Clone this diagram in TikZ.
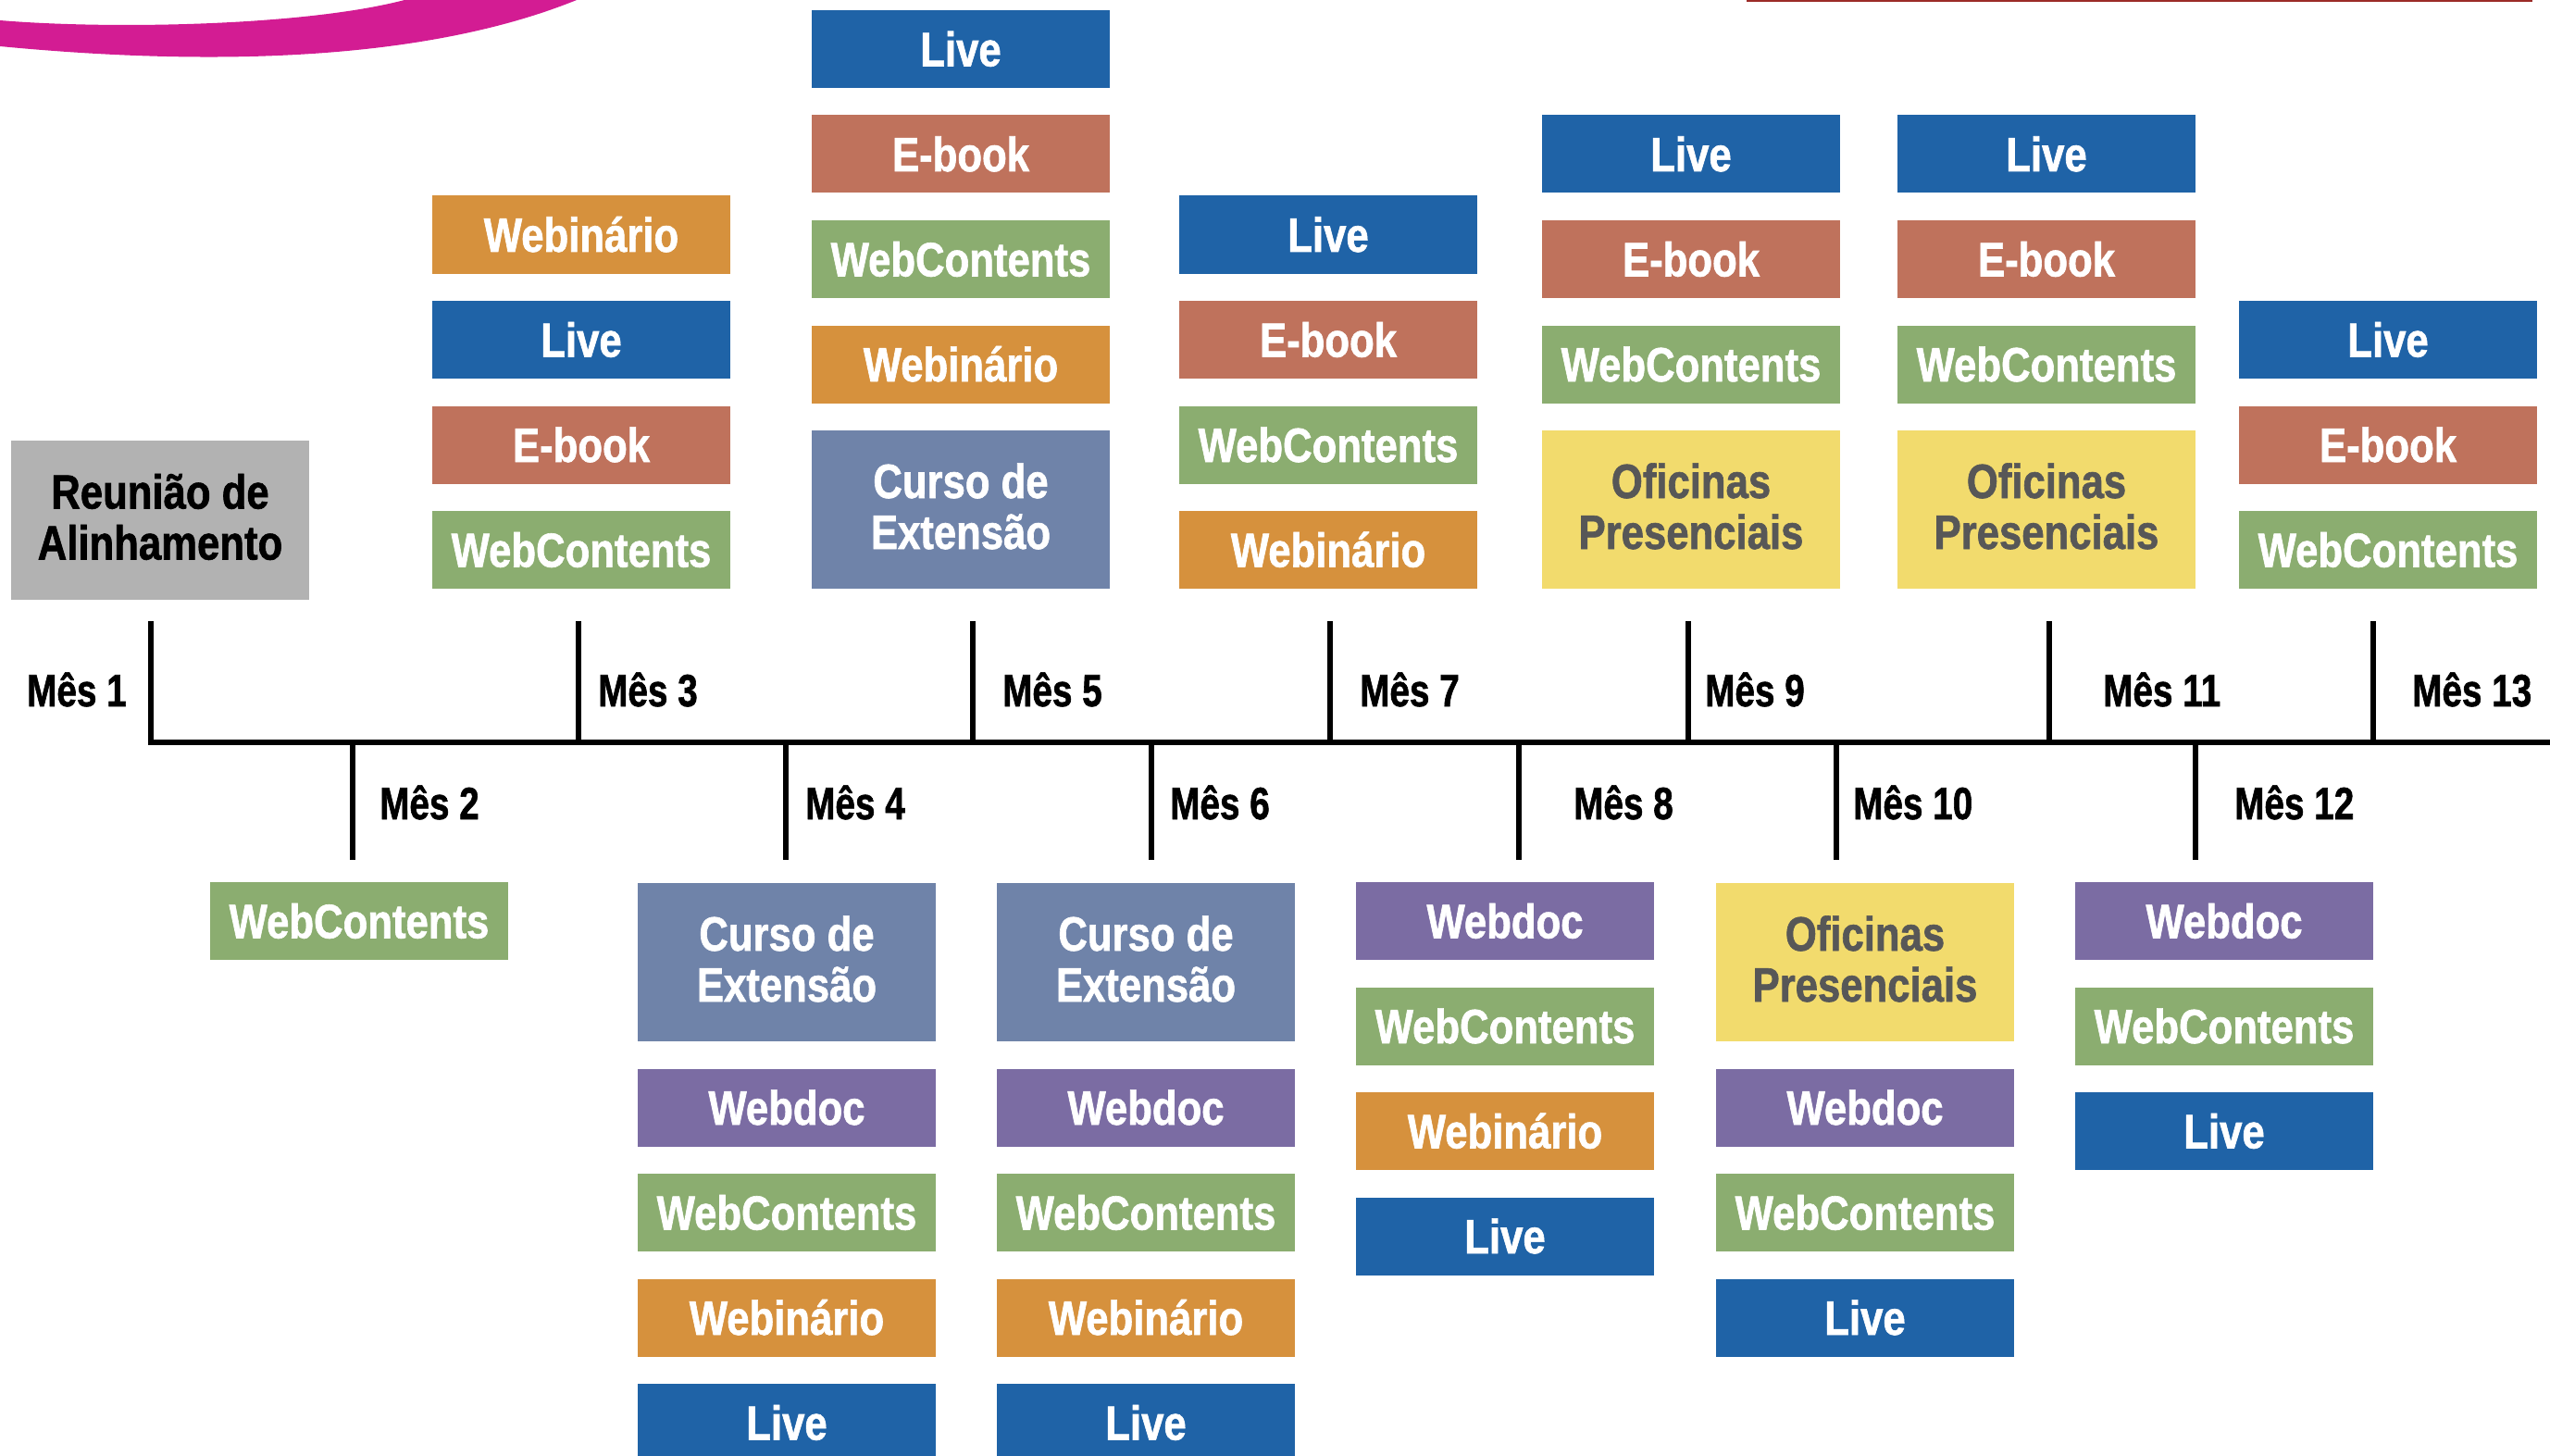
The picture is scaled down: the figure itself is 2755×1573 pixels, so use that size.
\documentclass[tikz,border=0pt]{standalone}
\usepackage{fontspec}
\newfontfamily\boxfont{Liberation Sans}[FakeStretch=0.84,FakeBold=1.2]
\newfontfamily\labfont{Liberation Sans}[FakeStretch=0.79,FakeBold=1.2]
\definecolor{cLive}{HTML}{1F63A7}
\definecolor{cEbook}{HTML}{BF725C}
\definecolor{cWebc}{HTML}{8BAD70}
\definecolor{cWebin}{HTML}{D6913D}
\definecolor{cCurso}{HTML}{6F83A9}
\definecolor{cWebdoc}{HTML}{7B6CA3}
\definecolor{cOfic}{HTML}{F2DB6D}
\definecolor{cOficTxt}{HTML}{575757}
\definecolor{cGray}{HTML}{B2B2B2}
\definecolor{cMag}{HTML}{D31C93}
\definecolor{cRed}{HTML}{9B2B27}
\newcommand\twol[2]{\begin{tabular}[t]{@{}c@{}}#1\\#2\end{tabular}}
\tikzset{
 bx/.style={rectangle, inner sep=0pt, outer sep=0pt, minimum width=322pt, minimum height=84pt,
   anchor=north west, font=\boxfont\bfseries\fontsize{52}{55}\selectfont,
   text height=37pt, text depth=0pt, text=white},
 dbl/.style={minimum height=171pt, text depth=62pt},
 live/.style={bx, fill=cLive},
 ebook/.style={bx, fill=cEbook},
 webc/.style={bx, fill=cWebc},
 webin/.style={bx, fill=cWebin},
 curso/.style={bx, dbl, fill=cCurso},
 webdoc/.style={bx, fill=cWebdoc},
 ofic/.style={bx, dbl, fill=cOfic, text=cOficTxt},
 reun/.style={bx, dbl, fill=cGray, text=black, minimum height=172pt},
 mes/.style={anchor=base west, inner sep=0pt, text=black, font=\labfont\bfseries\fontsize{49}{55}\selectfont},
 tl/.style={line width=6pt, draw=black, line join=miter},
}
\begin{document}
\begin{tikzpicture}[x=1pt,y=-1pt]
\useasboundingbox (0,0) rectangle (2755,1573);
\fill[white] (0,0) rectangle (2755,1573);
% decorative swoosh and top line
\fill[cMag] (0,22) .. controls (120,32) and (330,28) .. (437,0) -- (623,0) .. controls (470,62) and (250,74) .. (0,50) -- cycle;
\fill[cRed] (1887,0) rectangle (2736,2);

% timeline
\coordinate (hE) at (2755,802);
\foreach \n/\x in {1/162.5,3/625,5/1051,7/1437,9/1824,11/2214,13/2564}{
  \coordinate (t\n) at (\x,802);
  \coordinate (e\n) at (\x,671);
}
\foreach \n/\x in {2/380.6,4/848.5,6/1244,8/1641,10/1984,12/2372}{
  \coordinate (t\n) at (\x,802);
  \coordinate (e\n) at (\x,929);
}
\draw[tl] (e1) -- (t1) -- (hE);
\foreach \n in {3,5,7,9,11,13,2,4,6,8,10,12}{
  \draw[tl] (e\n) -- (t\n);
}

% month labels
\node[mes] (m1) at (29,763) {Mês 1};
\node[mes] (m3) at (646,763) {Mês 3};
\node[mes] (m5) at (1083,763) {Mês 5};
\node[mes] (m7) at (1469,763) {Mês 7};
\node[mes] (m9) at (1842,763) {Mês 9};
\node[mes] (m11) at (2272,763) {Mês 11};
\node[mes] (m13) at (2606,763) {Mês 13};
\node[mes] (m2) at (410,885) {Mês 2};
\node[mes] (m4) at (870,885) {Mês 4};
\node[mes] (m6) at (1264,885) {Mês 6};
\node[mes] (m8) at (1700,885) {Mês 8};
\node[mes] (m10) at (2002,885) {Mês 10};
\node[mes] (m12) at (2414,885) {Mês 12};

% Reunião
\node[reun] (r) at (12,476) {\twol{Reunião de}{Alinhamento}};

% upper column A
\node[webin] (a1) at (467,211.5) {Webinário};
\node[live]  (a2) at (467,325) {Live};
\node[ebook] (a3) at (467,438.5) {E-book};
\node[webc]  (a4) at (467,552) {WebContents};
% upper column B
\node[live]  (b1) at (877,11) {Live};
\node[ebook] (b2) at (877,124.5) {E-book};
\node[webc]  (b3) at (877,238) {WebContents};
\node[webin] (b4) at (877,351.5) {Webinário};
\node[curso] (b5) at (877,465) {\twol{Curso de}{Extensão}};
% upper column C
\node[live]  (c1) at (1274,211.5) {Live};
\node[ebook] (c2) at (1274,325) {E-book};
\node[webc]  (c3) at (1274,438.5) {WebContents};
\node[webin] (c4) at (1274,552) {Webinário};
% upper column D
\node[live]  (d1) at (1666,124.5) {Live};
\node[ebook] (d2) at (1666,238) {E-book};
\node[webc]  (d3) at (1666,351.5) {WebContents};
\node[ofic]  (d4) at (1666,465) {\twol{Oficinas}{Presenciais}};
% upper column E
\node[live]  (e1n) at (2050,124.5) {Live};
\node[ebook] (e2n) at (2050,238) {E-book};
\node[webc]  (e3n) at (2050,351.5) {WebContents};
\node[ofic]  (e4n) at (2050,465) {\twol{Oficinas}{Presenciais}};
% upper column F
\node[live]  (f1) at (2419,325) {Live};
\node[ebook] (f2) at (2419,438.5) {E-book};
\node[webc]  (f3) at (2419,552) {WebContents};

% lower month 2
\node[webc] (g0) at (227,953) {WebContents};
% lower column G
\node[curso]  (g1) at (689,954) {\twol{Curso de}{Extensão}};
\node[webdoc] (g2) at (689,1154.5) {Webdoc};
\node[webc]   (g3) at (689,1268) {WebContents};
\node[webin]  (g4) at (689,1381.5) {Webinário};
\node[live]   (g5) at (689,1495) {Live};
% lower column H
\node[curso]  (h1) at (1077,954) {\twol{Curso de}{Extensão}};
\node[webdoc] (h2) at (1077,1154.5) {Webdoc};
\node[webc]   (h3) at (1077,1268) {WebContents};
\node[webin]  (h4) at (1077,1381.5) {Webinário};
\node[live]   (h5) at (1077,1495) {Live};
% lower column I
\node[webdoc] (i1) at (1465,953) {Webdoc};
\node[webc]   (i2) at (1465,1066.5) {WebContents};
\node[webin]  (i3) at (1465,1180) {Webinário};
\node[live]   (i4) at (1465,1293.5) {Live};
% lower column J
\node[ofic]   (j1) at (1854,954) {\twol{Oficinas}{Presenciais}};
\node[webdoc] (j2) at (1854,1154.5) {Webdoc};
\node[webc]   (j3) at (1854,1268) {WebContents};
\node[live]   (j4) at (1854,1381.5) {Live};
% lower column K
\node[webdoc] (k1) at (2242,953) {Webdoc};
\node[webc]   (k2) at (2242,1066.5) {WebContents};
\node[live]   (k3) at (2242,1180) {Live};
\end{tikzpicture}
\end{document}
